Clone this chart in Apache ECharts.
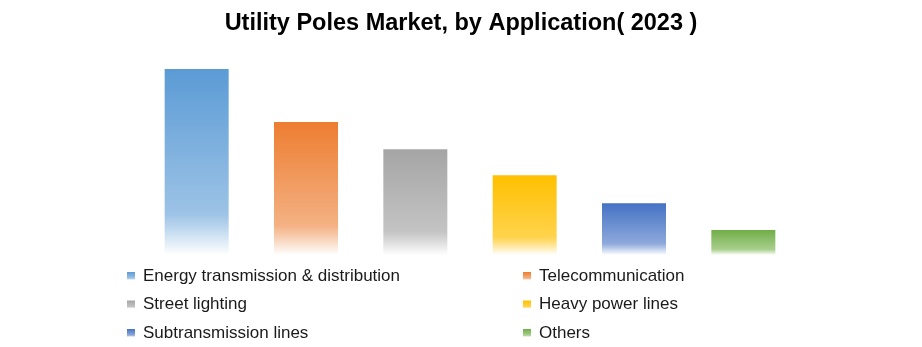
<!DOCTYPE html>
<html><head><meta charset="utf-8">
<script src="https://cdn.jsdelivr.net/npm/echarts@6/dist/echarts.min.js"></script>
<style>html,body{margin:0;padding:0;background:#fff}#c{width:922px;height:347px}</style>
</head><body><div id="c"></div>
<script>
const titleText = 'Utility Poles Market, by Application( 2023 )';
const categories = ['Energy transmission & distribution','Telecommunication','Street lighting','Heavy power lines','Subtransmission lines','Others'];
const values = [32.0, 22.9, 18.2, 13.7, 8.9, 4.3];
const topColors = ['#5B9BD5','#ED7D31','#A5A5A5','#FFC000','#4472C4','#70AD47'];
const midColors = ['#9DC3E6','#F4B183','#C4C4C4','#FFD34D','#8EA9DB','#A9D08E'];

function grad(i){
  return new echarts.graphic.LinearGradient(0,0,0,1,[
    {offset:0,color:topColors[i]},
    {offset:0.78,color:midColors[i]},
    {offset:0.86,color:echarts.color.lift(midColors[i],0.35)},
    {offset:1,color:'#ffffff'}
  ]);
}
const series = categories.map((name,i)=>({
  name:name, type:'bar', stack:'all', barWidth:64,
  data: values.map((v,j)=> j===i ? v : null),
  itemStyle:{color:grad(i)},
  emphasis:{disabled:true}
}));
const chart = echarts.init(document.getElementById('c'));
const legendText = {fontFamily:'Liberation Sans',fontSize:17,color:'#1a1a1a',lineHeight:20,padding:[0,0,0,3]};
const legendBase = {orient:'vertical',top:266,height:80,padding:0,itemWidth:8,itemHeight:8,itemGap:8.5,icon:'rect',textStyle:legendText,selectedMode:false};
chart.setOption({
  animation:false,
  title:{text:titleText,left:'center',top:7,textStyle:{fontFamily:'Liberation Sans',fontWeight:'bold',fontSize:23.5,color:'#000'}},
  grid:{left:142,right:124,top:69,bottom:92},
  xAxis:{type:'category',data:categories,show:false},
  yAxis:{type:'value',min:0,max:32,show:false},
  legend:[
    Object.assign({data:[categories[0],categories[2],categories[4]],left:127},legendBase),
    Object.assign({data:[categories[1],categories[3],categories[5]],left:523},legendBase)
  ],
  series:series
});
</script></body></html>
